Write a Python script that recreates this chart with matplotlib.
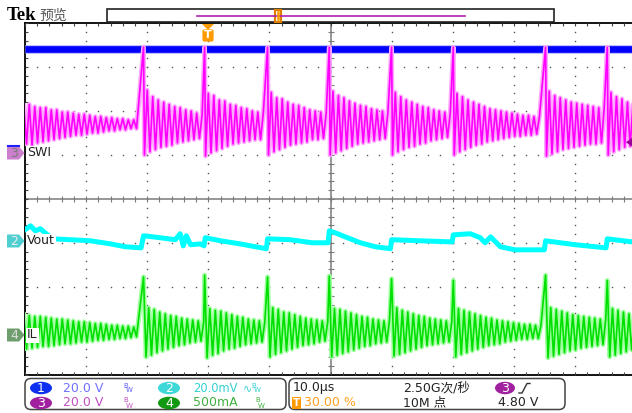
import numpy as np
import matplotlib
matplotlib.use("Agg")
import matplotlib.pyplot as plt
from matplotlib.patches import Polygon, Rectangle, FancyBboxPatch, Ellipse

plt.rcParams['font.family'] = ['DejaVu Sans', 'Noto Sans CJK SC']

W, H = 632, 413

# scope settings
CH1_SCALE, CH1_POS = 20.0, 1.20    # V/div, ground marker in div from centre
CH2_SCALE, CH2_POS = 20.0, -0.95   # mV/div
CH3_SCALE, CH3_POS = 20.0, 1.05    # V/div
CH4_SCALE, CH4_POS = 0.5, -3.09    # A/div
TRIG_LEVEL_V = 4.80

CH1_VIN_V = 44.3
EVENTS_US = [-10.6, -0.6, 9.7, 19.8, 30.0, 40.1, 55.2, 65.3]
RING_PERIOD_US = 0.9

SW_SPIKE_V = 48.0
SW_PRE_HI = [21.5, 22.0, 21.0, 20.5, 20.5, 19.5, 19.5, 18.5, 18.5, 18.0, 17.5,
             17.5, 17.0, 16.5, 16.5, 16.0, 16.0, 15.5, 15.5, 15.0, 15.0]
SW_PRE_LO = [4.0, 3.5, 4.5, 5.0, 5.5, 6.0, 6.5, 7.0, 7.5, 8.0, 8.0,
             8.5, 9.0, 9.0, 9.5, 10.0, 10.0, 10.5, 10.5, 11.0, 11.0]
SW_RING_HI = [
    [28.5, 25.5, 24.0, 23.0, 22.0, 21.0, 20.5, 19.5, 19.0, 18.0, 17.5],
    [27.0, 26.0, 24.0, 23.5, 22.0, 21.5, 20.5, 20.0, 19.0, 18.5, 18.0],
    [27.5, 25.0, 24.5, 23.0, 22.0, 21.5, 20.5, 19.5, 19.0, 18.5, 18.0],
    [28.0, 26.0, 25.0, 23.5, 22.5, 21.5, 21.0, 20.0, 19.5, 19.0, 18.5],
    [27.5, 25.5, 24.0, 23.0, 22.0, 21.0, 20.5, 19.5, 19.0, 18.5, 18.0],
    [27.0, 25.5, 24.0, 23.0, 22.0, 21.0, 20.0, 19.5, 19.0, 18.5, 18.0, 17.5, 17.0, 17.0, 16.5, 16.5],
    [28.0, 26.0, 25.0, 24.0, 23.0, 22.5, 22.0, 21.5, 21.0, 20.5, 20.5],
    [27.5, 25.5, 24.5, 23.0, 22.0, 21.0],
]
SW_RING_LO = [
    [-1.0, 0.5, 1.5, 2.5, 3.0, 3.5, 4.5, 5.0, 5.5, 6.0, 6.5],
    [-1.5, 0.0, 1.0, 2.0, 3.0, 4.0, 4.5, 5.0, 5.5, 6.0, 6.0],
    [-1.0, 0.5, 1.5, 2.5, 3.5, 4.0, 4.5, 5.0, 6.0, 6.0, 6.5],
    [-1.0, 0.0, 1.0, 2.0, 3.0, 4.0, 4.5, 5.0, 5.5, 6.0, 6.5],
    [-1.0, 0.5, 1.5, 2.5, 3.0, 4.0, 4.5, 5.5, 6.0, 6.5, 7.0],
    [-1.0, 0.5, 1.5, 2.5, 3.5, 4.0, 5.0, 5.5, 6.0, 6.5, 7.0, 7.5, 7.5, 8.0, 8.0, 8.5],
    [-1.5, -0.5, 0.5, 1.5, 2.0, 2.5, 3.0, 3.5, 4.0, 4.0, 4.5],
    [-1.0, 0.5, 1.5, 2.5, 3.0, 3.5],
]

IL_SPIKE_A = [0.66, 0.68, 0.66, 0.67, 0.64, 0.62, 0.68, 0.62]
IL_PRE_HI = [0.23, 0.22, 0.21, 0.21, 0.20, 0.19, 0.18, 0.18, 0.17, 0.16, 0.15,
             0.15, 0.14, 0.13, 0.13, 0.12, 0.11, 0.11, 0.10, 0.10, 0.09]
IL_PRE_LO = [-0.16, -0.15, -0.14, -0.13, -0.13, -0.12, -0.11, -0.10, -0.10, -0.09, -0.08,
             -0.08, -0.07, -0.06, -0.06, -0.05, -0.05, -0.04, -0.04, -0.03, -0.02]
IL_RING_HI = [
    [0.31, 0.29, 0.26, 0.24, 0.22, 0.21, 0.19, 0.18, 0.17, 0.16, 0.15],
    [0.30, 0.28, 0.27, 0.25, 0.23, 0.21, 0.20, 0.18, 0.17, 0.16, 0.15],
    [0.31, 0.29, 0.26, 0.25, 0.23, 0.21, 0.19, 0.18, 0.17, 0.16, 0.15],
    [0.30, 0.29, 0.27, 0.25, 0.23, 0.21, 0.20, 0.18, 0.17, 0.16, 0.16],
    [0.31, 0.28, 0.26, 0.24, 0.22, 0.21, 0.19, 0.18, 0.17, 0.16, 0.15],
    [0.30, 0.28, 0.26, 0.24, 0.22, 0.20, 0.19, 0.17, 0.16, 0.15, 0.14, 0.13, 0.12, 0.12, 0.11, 0.11],
    [0.31, 0.29, 0.27, 0.25, 0.23, 0.22, 0.21, 0.20, 0.19, 0.18, 0.18],
    [0.30, 0.28, 0.26, 0.24, 0.23, 0.21],
]
IL_RING_LO = [
    [-0.25, -0.23, -0.20, -0.18, -0.16, -0.14, -0.12, -0.11, -0.09, -0.08, -0.07],
    [-0.26, -0.23, -0.21, -0.18, -0.16, -0.15, -0.13, -0.11, -0.10, -0.09, -0.08],
    [-0.25, -0.22, -0.20, -0.18, -0.16, -0.14, -0.12, -0.11, -0.10, -0.08, -0.07],
    [-0.25, -0.23, -0.21, -0.19, -0.17, -0.15, -0.13, -0.12, -0.10, -0.09, -0.08],
    [-0.24, -0.22, -0.20, -0.18, -0.16, -0.14, -0.12, -0.11, -0.10, -0.09, -0.08],
    [-0.25, -0.22, -0.20, -0.18, -0.16, -0.14, -0.12, -0.11, -0.10, -0.08, -0.07, -0.06, -0.05, -0.05, -0.04, -0.04],
    [-0.26, -0.24, -0.22, -0.20, -0.18, -0.17, -0.15, -0.14, -0.13, -0.12, -0.11],
    [-0.25, -0.23, -0.21, -0.19, -0.17, -0.15],
]

VOUT_T_US = [-30.0, -29.1, -28.3, -27.5, -26.7, -25.5, -22.6, -19.3, -16.0, -13.6, -11.0,
             -10.6, -7.9, -5.4, -4.6, -4.1, -3.6, -2.9, -1.3, -0.7, -0.5, 2.0, 5.2, 7.7,
             9.5, 9.7, 13.4, 17.0, 19.6, 19.8, 20.8, 22.4, 24.9, 27.3, 29.8, 30.0, 34.7,
             39.9, 40.1, 42.9, 44.5, 45.3, 46.2, 47.8, 50.2, 55.0, 55.2, 60.1, 65.1, 65.3, 69.4]
VOUT_MV = [5.0, 6.8, 4.5, 5.5, 3.6, 0.9, 0.5, 0.0, -1.4, -2.7, -3.2,
           2.3, 1.4, 0.5, 3.2, -2.3, 2.3, -1.8, -1.4, -2.3, 1.4, 0.0, -1.4, -2.7,
           -3.6, 0.9, 0.5, -0.9, -0.9, 4.5, 3.6, 1.8, -0.9, -2.7, -3.6, 0.5, 0.0,
           -0.5, 2.7, 3.2, 1.4, -0.9, 1.8, -2.7, -4.1, -4.1, 0.0, -1.8, -3.2, 0.9, -0.5]


def to_div(vals, scale, pos):
    return np.asarray(vals, dtype=float) / scale + pos


def build_ringing(pre_hi, pre_lo, seg_hi, seg_lo, spikes, fall):
    P = RING_PERIOD_US
    t, v = [], []
    t0 = -30.2
    for k, (h, l) in enumerate(zip(pre_hi, pre_lo)):
        t += [t0 + k * P, t0 + k * P + P / 2]
        v += [h, l]
    for e, hi, lo, sp in zip(EVENTS_US, seg_hi, seg_lo, spikes):
        t += [e]
        v += [sp]
        t0 = e + fall
        for k, (h, l) in enumerate(zip(hi, lo)):
            t += [t0 + k * P, t0 + k * P + P / 2]
            v += [l, h]
    return np.array(t), np.array(v)


fig = plt.figure(figsize=(W / 100, H / 100), dpi=100, facecolor='white')
ax = fig.add_axes([25 / W, 1 - 375 / H, 611 / W, 352 / H])
ax.set_xlim(-30, 70)
ax.set_ylim(-4, 4)
ax.axis('off')

# graticule
minor_t = np.arange(-30, 70.01, 2)
minor_d = np.arange(-4, 4.01, 0.2)
for tv in [-20, -10, 0, 10, 30, 40, 50, 60]:
    ax.plot([tv] * len(minor_d), minor_d, ls='none', marker='s', ms=1.0, mew=0, color='#555555')
for dv in [-3, -2, -1, 1, 2, 3]:
    ax.plot(minor_t, [dv] * len(minor_t), ls='none', marker='s', ms=1.0, mew=0, color='#555555')
ax.plot([20, 20], [-4, 4], color='#7a7a7a', lw=1.1)
ax.plot([-30, 70], [0, 0], color='#7a7a7a', lw=1.1)
ax.plot([20] * len(minor_d), minor_d, ls='none', marker='_', ms=4.5, mew=0.8, color='#7a7a7a')
ax.plot(minor_t, [0] * len(minor_t), ls='none', marker='|', ms=4.5, mew=0.8, color='#7a7a7a')
ax.plot([-30, 70], [4, 4], color='black', lw=1.3, clip_on=False)
ax.plot([-30, 70], [-4, -4], color='black', lw=1.3, clip_on=False)
ax.plot([-30, -30], [-4, 4], color='black', lw=1.3, clip_on=False)
ax.plot(minor_t, [4] * len(minor_t), ls='none', marker=3, ms=2.5, mew=0.8, color='#444444')
ax.plot(minor_t, [-4] * len(minor_t), ls='none', marker=2, ms=2.5, mew=0.8, color='#444444')
ax.plot([-30] * len(minor_d), minor_d, ls='none', marker=1, ms=2.5, mew=0.8, color='#444444')

# ch1: Vin
d1 = to_div([CH1_VIN_V, CH1_VIN_V], CH1_SCALE, CH1_POS)
ax.plot([-30, 70], d1, color='#b8b8ff', lw=6.3, solid_capstyle='butt')
ax.plot([-30, 70], d1, color='#0000ff', lw=4.8, solid_capstyle='butt')

# ch3: SW node
t3, v3 = build_ringing(SW_PRE_HI, SW_PRE_LO, SW_RING_HI, SW_RING_LO,
                       [SW_SPIKE_V] * len(EVENTS_US), 0.15)
ax.plot(t3, to_div(v3, CH3_SCALE, CH3_POS), color='#ffa8ff', lw=3.4)
ax.plot(t3, to_div(v3, CH3_SCALE, CH3_POS), color='#ff00ff', lw=1.2)

# ch2: Vout
ax.plot(VOUT_T_US, to_div(VOUT_MV, CH2_SCALE, CH2_POS), color='#00ffff', lw=3.6)

# ch4: IL
t4, v4 = build_ringing(IL_PRE_HI, IL_PRE_LO, IL_RING_HI, IL_RING_LO, IL_SPIKE_A, 0.4)
ax.plot(t4, to_div(v4, CH4_SCALE, CH4_POS), color='#a0ffa0', lw=3.4)
ax.plot(t4, to_div(v4, CH4_SCALE, CH4_POS), color='#00e000', lw=1.2)

# overlay in screen pixels
ox = fig.add_axes([0, 0, 1, 1])
ox.set_xlim(0, W)
ox.set_ylim(H, 0)
ox.axis('off')

ox.text(7, 16, 'Tek', fontsize=13.5, fontweight='bold', va='center', ha='left',
        color='black', family='Liberation Serif')
ox.text(39, 16, '预览', fontsize=10, va='center', ha='left', color='#555555')

# record view
ox.add_patch(Rectangle((107, 9), 447, 13, fc='white', ec='#222222', lw=1.2))
ox.plot([197, 465], [15.5, 15.5], color='#b020b0', lw=1.2)
ox.add_patch(Rectangle((275, 9.5), 6, 12, fc='white', ec='#e08000', lw=1.6))
ox.plot([278, 278], [12, 19], color='#ff9900', lw=1.8)

# trigger position marker
ox.add_patch(Polygon([(202, 24), (214, 24), (208, 30)], closed=True, fc='#ff9a00', ec='none'))
ox.add_patch(FancyBboxPatch((203, 30), 10, 11, boxstyle='round,pad=0.6,rounding_size=2',
                            fc='#ff9a00', ec='none'))
ox.text(208, 35.5, 'T', fontsize=8, fontweight='bold', color='white', ha='center', va='center')

# trigger level marker on the right
ty = 199 - (TRIG_LEVEL_V / CH3_SCALE + CH3_POS) * 44
ox.add_patch(Polygon([(633, ty - 5), (626, ty), (633, ty + 5)], closed=True, fc='#990099', ec='none'))


def ch_marker(y, num, fc, tc, label):
    ox.add_patch(Polygon([(7, y - 6.5), (19, y - 6.5), (24.5, y), (19, y + 6.5), (7, y + 6.5)],
                         closed=True, fc=fc, ec='none'))
    ox.text(14, y + 0.5, num, fontsize=9, color=tc, ha='center', va='center')
    ox.text(27, y, label, fontsize=9, color='#222222', ha='left', va='center',
            bbox=dict(boxstyle='square,pad=0.08', fc='white', ec='none'))


ch_marker(153, '3', '#cc7fcc', '#7a7a7a', 'SWI')
ox.plot([8, 19], [146, 146], color='#2020ff', lw=1.5)
ch_marker(241, '2', '#4fcfcf', '#eeeeee', 'Vout')
ch_marker(335, '4', '#6e9e6e', '#dddddd', 'IL')

# bottom readouts
ox.add_patch(FancyBboxPatch((25, 378.5), 261, 31, boxstyle='round,pad=0,rounding_size=6',
                            fc='white', ec='#444444', lw=1.1))
ox.add_patch(FancyBboxPatch((289, 378.5), 276, 31, boxstyle='round,pad=0,rounding_size=6',
                            fc='white', ec='#444444', lw=1.1))
ROW1, ROW2 = 388, 403


def badge(x, y, num, fc, w=22):
    ox.add_patch(Ellipse((x, y), w, 12.5, fc=fc, ec='none'))
    ox.text(x, y + 0.5, num, fontsize=9, color='white', ha='center', va='center')


def bw(x, y, color):
    ox.text(x, y - 2.5, 'B', fontsize=5, color=color, ha='left', va='center')
    ox.text(x + 2.5, y + 2.5, 'W', fontsize=5, color=color, ha='left', va='center')


badge(41, ROW1, '1', '#1030f0')
ox.text(63, ROW1, '20.0 V', fontsize=9, color='#7070ff', va='center')
bw(123, ROW1, '#6060ff')
badge(169, ROW1, '2', '#3fd8d8')
ox.text(193, ROW1, '20.0mV', fontsize=8.3, color='#33d0d0', va='center')
ox.text(243, ROW1, '∿', fontsize=8, color='#33d0d0', va='center')
bw(251, ROW1, '#33d0d0')

badge(41, ROW2, '3', '#a020a0')
ox.text(63, ROW2, '20.0 V', fontsize=9, color='#c050c0', va='center')
bw(123, ROW2, '#c050c0')
badge(169, ROW2, '4', '#119911')
ox.text(193, ROW2, '500mA', fontsize=9, color='#40b040', va='center')
bw(255, ROW2, '#40b040')

ox.text(293, ROW1, '10.0μs', fontsize=9, color='#222222', va='center')
ox.text(403, ROW1, '2.50G次/秒', fontsize=9, color='#222222', va='center')
badge(505, ROW1, '3', '#a020a0', w=20)
ox.plot([519, 522, 527, 530], [393, 393, 383.5, 383.5], color='#333333', lw=1.0)

ox.add_patch(Rectangle((292, 397), 9, 12, fc='#ff9900', ec='none'))
ox.text(296.5, ROW2 + 0.5, 'T', fontsize=7.5, fontweight='bold', color='white', ha='center', va='center')
ox.text(304, ROW2, '30.00 %', fontsize=9, color='#ffa020', va='center')
ox.text(403, ROW2, '10M 点', fontsize=9, color='#222222', va='center')
ox.text(498, ROW2, '4.80 V', fontsize=9, color='#222222', va='center')

fig.savefig('out.png', dpi=100, facecolor='white')
